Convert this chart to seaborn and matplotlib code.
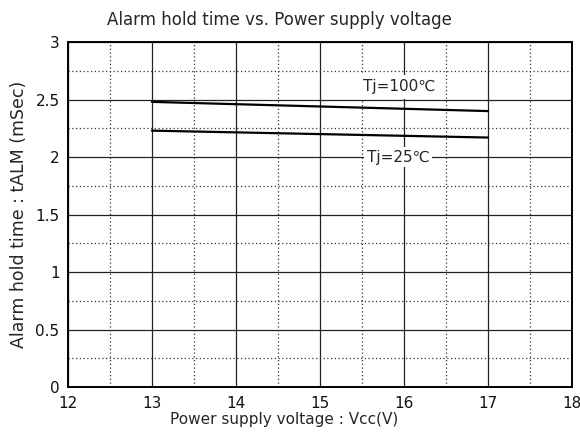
import numpy as np
import pandas as pd
import matplotlib
matplotlib.use("Agg")
import matplotlib.pyplot as plt
import seaborn as sns
from matplotlib.ticker import MultipleLocator

# --------------------------------------------------
# Data
# --------------------------------------------------
vcc = [13, 17]
t_100c = [2.48, 2.40]
t_25c = [2.23, 2.17]
series_names = ["Tj=100℃", "Tj=25℃"]

x_ticks = [12, 13, 14, 15, 16, 17, 18]
y_ticks = [0, 0.5, 1, 1.5, 2, 2.5, 3]
y_tick_labels = ["0", "0.5", "1", "1.5", "2", "2.5", "3"]

df = pd.DataFrame({
    "Vcc": vcc + vcc,
    "tALM": t_100c + t_25c,
    "Tj": [series_names[0]] * len(vcc) + [series_names[1]] * len(vcc),
})

# --------------------------------------------------
# Plot
# --------------------------------------------------
sns.set_style("white")
plt.rcParams['font.family'] = ['DejaVu Sans']

fig = plt.figure(figsize=(5.8, 4.38), dpi=100)
ax = fig.add_axes([0.117, 0.116, 0.869, 0.788])

sns.lineplot(data=df, x="Vcc", y="tALM", hue="Tj",
             palette=["black", "black"], linewidth=1.6,
             legend=False, ax=ax)

ax.set_xlim(12, 18)
ax.set_ylim(0, 3)
ax.set_xticks(x_ticks)
ax.set_yticks(y_ticks)
ax.set_yticklabels(y_tick_labels)
ax.xaxis.set_minor_locator(MultipleLocator(0.5))
ax.yaxis.set_minor_locator(MultipleLocator(0.25))

ax.grid(which="major", color="#222222", linewidth=0.9, linestyle="-")
ax.grid(which="minor", color="#333333", linewidth=0.9, linestyle=(0, (1, 2)))
ax.set_axisbelow(True)

for s in ax.spines.values():
    s.set_color("black")
    s.set_linewidth(1.4)

ax.tick_params(which="both", length=0, labelsize=11, colors="#111111", pad=6)

# curve labels with white boxes covering grid lines
ax.text(15.95, 2.61, series_names[0], ha="center", va="center", fontsize=11,
        bbox=dict(facecolor="white", edgecolor="none", pad=3), zorder=5)
ax.text(15.93, 2.0, series_names[1], ha="center", va="center", fontsize=11,
        bbox=dict(facecolor="white", edgecolor="none", pad=1.5), zorder=5)

ax.set_title("Alarm hold time vs. Power supply voltage", fontsize=12, pad=12, x=0.42)
ax.set_xlabel("Power supply voltage : Vcc(V)", fontsize=11, labelpad=1, x=0.43)
ax.set_ylabel("Alarm hold time : tALM (mSec)", fontsize=12.5, labelpad=5)

fig.savefig("out.png", dpi=100)
